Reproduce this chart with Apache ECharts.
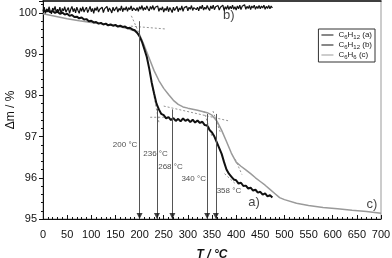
<!DOCTYPE html>
<html><head><meta charset="utf-8">
<script src="https://cdn.jsdelivr.net/npm/echarts@6/dist/echarts.min.js"></script>
<style>html,body{margin:0;padding:0;background:#fff}#c{width:392px;height:258px}</style>
</head><body><div id="c"></div>
<script>
// ---- data ----
const xTicks = [0,50,100,150,200,250,300,350,400,450,500,550,600,650,700];
const yTicks = [95,96,97,98,99,100];
const seriesNames = ['C6H12 (a)','C6H12 (b)','C6H6 (c)'];
// curve a: C6H12 (a) [T, dm]
const curveA = [[0,100.06],[5,100.03],[10,100.07],[15,100.02],[20,100.05],[25,100.00],[30,100.03],[35,99.98],[40,100.01],[45,99.96],[50,99.98],[55,99.93],[60,99.95],[65,99.90],[70,99.91],[75,99.87],[80,99.89],[85,99.84],[90,99.85],[95,99.80],[100,99.81],[105,99.77],[110,99.78],[115,99.74],[120,99.76],[125,99.72],[130,99.74],[135,99.70],[140,99.72],[145,99.69],[150,99.71],[155,99.67],[160,99.69],[165,99.66],[170,99.67],[175,99.63],[180,99.64],[185,99.60],[190,99.58],[195,99.52],[200,99.43],[205,99.30],[210,99.12],[215,98.93],[220,98.65],[225,98.32],[230,98.05],[235,97.80],[240,97.66],[245,97.55],[250,97.52],[255,97.44],[260,97.47],[265,97.40],[270,97.45],[275,97.38],[280,97.43],[285,97.37],[290,97.44],[295,97.38],[300,97.42],[305,97.35],[310,97.41],[315,97.34],[320,97.39],[325,97.33],[330,97.36],[335,97.28],[340,97.27],[345,97.16],[350,97.10],[355,97.00],[360,96.86],[365,96.72],[370,96.58],[375,96.38],[380,96.20],[385,96.10],[390,96.03],[395,95.96],[400,95.94],[405,95.86],[410,95.88],[415,95.80],[420,95.81],[425,95.74],[430,95.76],[435,95.69],[440,95.71],[445,95.64],[450,95.66],[455,95.59],[460,95.62],[465,95.55],[470,95.58],[475,95.52]];
// curve b: C6H12 (b), sampled every 2.5 °C from 0 °C
const curveBStart = 0, curveBStep = 2.5;
const curveBValues = [100.05,100.14,99.99,100.10,100.02,100.15,100.04,99.98,100.12,100.06,
100.16,100.01,100.09,100.03,100.14,99.97,100.11,100.05,100.15,100.02,
100.08,100.13,99.99,100.09,100.16,100.03,100.11,100.00,100.14,100.06,
99.99,100.12,100.04,100.15,100.02,100.09,100.14,100.01,100.08,100.16,
100.03,100.11,99.99,100.12,100.06,100.15,100.02,100.09,100.05,100.14,
100.01,100.10,100.06,100.16,100.03,100.12,100.07,100.00,100.14,100.05,
100.09,100.15,100.02,100.11,100.06,100.17,100.03,100.12,100.07,100.15,
100.04,100.13,100.08,100.17,100.05,100.12,100.16,100.06,100.13,100.04,
100.15,100.09,100.18,100.06,100.13,100.08,100.17,100.10,100.05,100.16,
100.09,100.18,100.07,100.14,100.10,100.17,100.04,100.12,100.07,100.15,
100.02,100.11,100.06,100.16,100.03,100.13,100.08,100.01,100.14,100.06,
100.10,100.16,100.03,100.12,100.07,100.17,100.04,100.13,100.09,100.16,
100.05,100.14,100.09,100.18,100.06,100.13,100.17,100.08,100.14,100.05,
100.16,100.10,100.19,100.07,100.14,100.09,100.18,100.11,100.06,100.17,
100.10,100.19,100.08,100.15,100.11,100.18,100.07,100.14,100.10,100.19,
100.06,100.15,100.09,100.18,100.08,100.16,100.10,100.19,100.09,100.15,
100.07,100.17,100.10,100.19,100.08,100.16,100.12,100.20,100.09,100.16,
100.11,100.18,100.08,100.17,100.12,100.19,100.09,100.16,100.11,100.18,
100.10,100.17,100.12,100.19,100.09,100.16,100.11,100.18,100.10,100.17,100.12];
// curve c: C6H6 (c)
const curveC = [[0,99.98],[25,99.92],[50,99.86],[75,99.81],[100,99.77],[125,99.73],[150,99.69],[175,99.62],[190,99.56],[200,99.47],[210,99.20],[220,98.90],[230,98.60],[240,98.36],[250,98.17],[260,98.02],[270,97.88],[280,97.78],[290,97.72],[300,97.69],[320,97.64],[340,97.58],[350,97.52],[360,97.38],[370,97.15],[380,96.88],[390,96.60],[400,96.38],[410,96.28],[420,96.19],[430,96.10],[440,96.00],[450,95.91],[460,95.82],[470,95.72],[480,95.62],[490,95.52],[500,95.47],[525,95.38],[550,95.33],[580,95.28],[610,95.25],[640,95.21],[670,95.18],[700,95.14]];
// construction (tangent) lines
const tangents = [
  [[182,99.68],[255,99.61]],
  [[183,99.93],[205,99.35]],
  [[224,98.35],[240,97.35]],
  [[222,97.47],[262,97.47]],
  [[250,97.74],[385,97.38]],
  [[333,97.62],[350,97.00]],
  [[352,97.62],[368,97.08]],
  [[376,96.10],[398,95.86]],
  [[398,96.45],[412,96.08]]
];
// onset temperatures with arrow tops
const onsetT = [200,236,268,340,358];
const onsetTop = [99.80,97.68,97.66,97.55,97.55];
const onsetLabels = ['200 °C','236 °C','268 °C','340 °C','358 °C'];
const onsetLabelPos = [[170,96.80],[233,96.58],[264,96.26],[312,95.97],[385,95.68]];
const curveLabels = ['a)','b)','c)'];
const curveLabelPos = [[437,95.41],[385,99.93],[681,95.36]];

// ---- build ----
const curveB = curveBValues.map((v,i)=>[curveBStart + i*curveBStep, v]);
const rich = {sub:{fontSize:6, verticalAlign:'bottom', padding:[4,0,0,0], fontFamily:'Liberation Sans', color:'#222'}};
function richName(n){ return n.replace(/C(\d+)H(\d+)/, 'C{sub|$1}H{sub|$2}'); }

const chart = echarts.init(document.getElementById('c'), null, {renderer:'canvas'});
const series = [
  {name:seriesNames[2], type:'line', data:curveC, showSymbol:false, symbol:'none', lineStyle:{color:'#9a9a9a', width:1.5}, itemStyle:{color:'#9a9a9a'}, z:3},
  {name:seriesNames[0], type:'line', data:curveA, showSymbol:false, symbol:'none', lineStyle:{color:'#111', width:2}, itemStyle:{color:'#111'}, z:4,
    markLine:{silent:true, symbol:['none','none'],
      lineStyle:{color:'#555', width:1, type:'solid'}, label:{show:false},
      data: onsetT.map((t,i)=>[{coord:[t,onsetTop[i]]},{coord:[t,95]}])}},
  {name:seriesNames[1], type:'line', data:curveB, showSymbol:false, symbol:'none', lineStyle:{color:'#111', width:1.2}, itemStyle:{color:'#111'}, z:4}
];
tangents.forEach(seg=>{
  series.push({type:'line', data:seg, showSymbol:false, symbol:'none', silent:true,
    lineStyle:{color:'#777', width:0.8, type:[2,2]}, z:2});
});
// arrow heads
series.push({type:'scatter', silent:true, z:7, symbol:'triangle', symbolRotate:180, symbolSize:[6,6], symbolOffset:[0,-3],
  itemStyle:{color:'#111'}, data: onsetT.map(t=>[t,95])});
series.push({type:'scatter', symbolSize:1, itemStyle:{color:'rgba(0,0,0,0)'}, silent:true, z:6,
  data: onsetLabelPos.map((p,i)=>({value:p, name:onsetLabels[i]})),
  label:{show:true, position:'inside', formatter:'{b}', fontSize:8, color:'#222', fontFamily:'Liberation Sans'}});
series.push({type:'scatter', symbolSize:1, itemStyle:{color:'rgba(0,0,0,0)'}, silent:true, z:6,
  data: curveLabelPos.map((p,i)=>({value:p, name:curveLabels[i]})),
  label:{show:true, position:'inside', formatter:'{b}', fontSize:13, color:'#111', fontFamily:'Liberation Sans'}});

chart.setOption({
  animation:false,
  backgroundColor:'#fff',
  grid:{left:43, right:11, top:1, bottom:39, show:true, borderColor:'#999', borderWidth:1, containLabel:false, outerBoundsMode:'none'},
  legend:{
    data:[seriesNames[0],seriesNames[1],seriesNames[2]],
    orient:'vertical', right:17, top:29, itemWidth:12, itemHeight:6, itemGap:1,
    padding:[2,3,2,3], borderColor:'#333', borderWidth:1, borderRadius:0,
    icon:'path://M0,2.5L12,2.5L12,3.5L0,3.5Z',
    formatter: n => richName(n),
    textStyle:{fontSize:8, color:'#222', fontFamily:'Liberation Sans', rich:rich}
  },
  xAxis:[{
    type:'value', min:xTicks[0], max:xTicks[xTicks.length-1], interval:50,
    name:'T / °C', nameLocation:'middle', nameGap:30, nameMoveOverlap:false,
    nameTextStyle:{fontSize:12, fontWeight:'bold', fontStyle:'italic', color:'#111', fontFamily:'Liberation Sans'},
    axisLine:{show:true, lineStyle:{color:'#111', width:1}},
    axisTick:{show:true, inside:true, length:4, lineStyle:{color:'#111'}},
    minorTick:{show:true, splitNumber:5, length:2, lineStyle:{color:'#111'}},
    axisLabel:{fontSize:11, color:'#111', margin:10, fontFamily:'Liberation Sans'},
    splitLine:{show:false}
  },{
    type:'value', position:'top', min:0, max:700,
    axisLine:{show:true, onZero:false, lineStyle:{color:'#111', width:1.5}},
    axisTick:{show:false}, axisLabel:{show:false}, splitLine:{show:false}
  }],
  yAxis:{
    type:'value', min:yTicks[0], max:100.29, interval:1,
    name:'Δm / %', nameLocation:'middle', nameGap:26, nameRotate:90, nameMoveOverlap:false,
    nameTextStyle:{fontSize:12, color:'#111', fontFamily:'Liberation Sans'},
    axisLine:{show:true, lineStyle:{color:'#111', width:1}},
    axisTick:{show:true, inside:false, length:4, lineStyle:{color:'#111'}},
    minorTick:{show:true, splitNumber:5, length:2, lineStyle:{color:'#111'}},
    axisLabel:{fontSize:11, color:'#111', margin:6, fontFamily:'Liberation Sans',
      formatter: v => (yTicks.indexOf(v) >= 0 ? String(v) : '')},
    splitLine:{show:false}
  },
  series: series
});
</script></body></html>
